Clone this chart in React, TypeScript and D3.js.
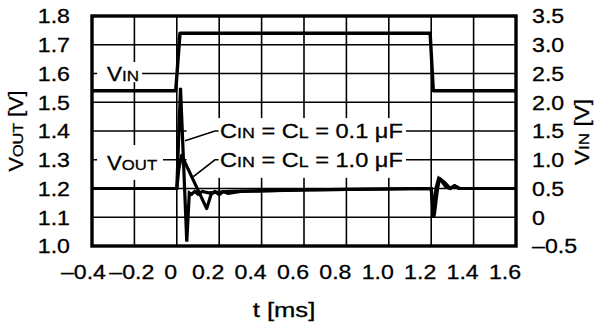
import React from 'react';
import * as d3 from 'd3';

const W = 595;
const H = 325;

// axis ticks
const xTicks = [-0.4, -0.2, 0, 0.2, 0.4, 0.6, 0.8, 1.0, 1.2, 1.4, 1.6];
const xTickLabels = ['–0.4', '–0.2', '0', '0.2', '0.4', '0.6', '0.8', '1.0', '1.2', '1.4', '1.6'];
const yLeftTicks = [1.0, 1.1, 1.2, 1.3, 1.4, 1.5, 1.6, 1.7, 1.8];
const yLeftLabels = ['1.0', '1.1', '1.2', '1.3', '1.4', '1.5', '1.6', '1.7', '1.8'];
const yRightTicks = [-0.5, 0, 0.5, 1.0, 1.5, 2.0, 2.5, 3.0, 3.5];
const yRightLabels = ['–0.5', '0', '0.5', '1.0', '1.5', '2.0', '2.5', '3.0', '3.5'];

// V_IN step (right axis)
const vinT = [-0.4, -0.005, 0.015, 1.195, 1.21, 1.6];
const vinV = [2.2, 2.2, 3.2, 3.2, 2.2, 2.2];

// V_OUT, C = 0.1 uF (left axis)
const vout01T = [-0.4, 0, 0.0175, 0.047, 0.059, 0.07, 0.085, 0.1, 0.12, 0.15, 0.25, 0.6, 1.2, 1.205, 1.212, 1.222, 1.235, 1.25, 1.27, 1.29, 1.31, 1.33, 1.36, 1.6];
const vout01V = [1.2, 1.2, 1.55, 1.015, 1.185, 1.18, 1.19, 1.18, 1.19, 1.185, 1.19, 1.195, 1.2, 1.15, 1.1, 1.2, 1.235, 1.225, 1.205, 1.2, 1.21, 1.2, 1.2, 1.2];

// V_OUT, C = 1.0 uF (left axis)
const vout10T = [-0.4, 0, 0.01, 0.023, 0.141, 0.162, 0.18, 0.2, 0.22, 0.24, 0.3, 0.6, 1.2, 1.208, 1.215, 1.23, 1.24, 1.265, 1.29, 1.31, 1.335, 1.36, 1.6];
const vout10V = [1.2, 1.2, 1.27, 1.315, 1.13, 1.18, 1.19, 1.178, 1.19, 1.183, 1.19, 1.195, 1.2, 1.15, 1.11, 1.2, 1.235, 1.22, 1.2, 1.21, 1.2, 1.2, 1.2];

const FONT = '"Liberation Sans", Arial, Helvetica, sans-serif';
const FS = 20.5;
const SUB = 15.5;

type TxtProps = {
  x: number; y: number; anchor?: 'start' | 'middle' | 'end'; sx?: number; rot?: number;
  dy?: string; size?: number; children: React.ReactNode;
};
function Txt({ x, y, anchor = 'start', sx = 1.13, rot = 0, dy = '0.36em', size = FS, children }: TxtProps) {
  return (
    <text
      transform={`translate(${x},${y})${rot ? ` rotate(${rot})` : ''} scale(${sx},1)`}
      textAnchor={anchor}
      dy={dy}
      fontSize={size}
      fontFamily={FONT}
      fill="#000"
      stroke="#000"
      strokeWidth={0.3}
    >
      {children}
    </text>
  );
}

export default function App() {
  const left = 92, right = 516, top = 16, bottom = 246;
  const x = d3.scaleLinear().domain([-0.4, 1.6]).range([left, right]);
  const yL = d3.scaleLinear().domain([1.0, 1.8]).range([bottom, top]);
  const yR = d3.scaleLinear().domain([-0.5, 3.5]).range([bottom, top]);

  const lineL = d3.line<[number, number]>().x(d => x(d[0])).y(d => yL(d[1]));
  const lineR = d3.line<[number, number]>().x(d => x(d[0])).y(d => yR(d[1]));

  const vin = vinT.map((t, i) => [t, vinV[i]] as [number, number]);
  const v01 = vout01T.map((t, i) => [t, vout01V[i]] as [number, number]);
  const v10 = vout10T.map((t, i) => [t, vout10V[i]] as [number, number]);

  const box = (t0: number, t1: number, v0: number, v1: number, key: string) => (
    <rect key={key} x={x(t0)} y={yL(v1)} width={x(t1) - x(t0)} height={yL(v0) - yL(v1)} fill="#fff" />
  );

  const leader01: [number, number][] = [[0.039, 1.366], [0.18, 1.4], [0.197, 1.4]];
  const leader10: [number, number][] = [[0.078, 1.241], [0.18, 1.3], [0.197, 1.3]];

  return (
    <svg width={W} height={H} style={{ position: 'absolute', left: 0, top: 0, background: '#fff' }}>
      <rect x={0} y={0} width={W} height={H} fill="#fff" />
      {/* grid */}
      {xTicks.slice(1, -1).map(t => (
        <line key={'gx' + t} x1={x(t)} x2={x(t)} y1={top} y2={bottom} stroke="#000" strokeWidth={1.6} />
      ))}
      {yLeftTicks.slice(1, -1).map(v => (
        <line key={'gy' + v} x1={left} x2={right} y1={yL(v)} y2={yL(v)} stroke="#000" strokeWidth={1.6} />
      ))}
      {/* label backgrounds */}
      {box(-0.376, -0.164, 1.57, 1.64, 'bA')}
      {box(-0.376, -0.065, 1.23, 1.351, 'bB')}
      {box(0.046, 1.081, 1.237, 1.445, 'bC')}
      {/* curves */}
      <path d={lineR(vin) || ''} fill="none" stroke="#000" strokeWidth={3.4} strokeLinejoin="round" />
      <path d={lineL(v10) || ''} fill="none" stroke="#000" strokeWidth={3.2} strokeLinejoin="round" />
      <path d={lineL(v01) || ''} fill="none" stroke="#000" strokeWidth={3.2} strokeLinejoin="miter" />
      {/* leaders */}
      <path d={lineL(leader01) || ''} fill="none" stroke="#000" strokeWidth={1.6} />
      <path d={lineL(leader10) || ''} fill="none" stroke="#000" strokeWidth={1.6} />
      {/* in-plot labels */}
      <Txt x={x(-0.329)} y={yL(1.6)} sx={1.1}>V<tspan fontSize={SUB}>IN</tspan></Txt>
      <Txt x={x(-0.329)} y={yL(1.3) + 2.5} sx={1.08}>V<tspan fontSize={SUB}>OUT</tspan></Txt>
      <Txt x={x(0.204)} y={yL(1.4)} sx={1.15}>C<tspan fontSize={SUB}>IN</tspan> = C<tspan fontSize={SUB}>L</tspan> = 0.1 μF</Txt>
      <Txt x={x(0.204)} y={yL(1.3)} sx={1.15}>C<tspan fontSize={SUB}>IN</tspan> = C<tspan fontSize={SUB}>L</tspan> = 1.0 μF</Txt>
      {/* frame */}
      <rect x={left} y={top} width={right - left} height={bottom - top} fill="none" stroke="#000" strokeWidth={3.4} />
      {/* tick labels */}
      {yLeftTicks.map((v, i) => (
        <Txt key={'yl' + v} x={70} y={yL(v)} anchor="end">{yLeftLabels[i]}</Txt>
      ))}
      {yRightTicks.map((v, i) => (
        <Txt key={'yr' + v} x={532} y={yR(v)} anchor="start">{yRightLabels[i]}</Txt>
      ))}
      {xTicks.map((t, i) =>
        t < 0 ? (
          <Txt key={'xt' + t} x={x(t) + 14 + (t + 0.4) * 30} y={272} anchor="end">{xTickLabels[i]}</Txt>
        ) : (
          <Txt key={'xt' + t} x={x(t) - (t === 0 ? 6 : 11)} y={272} anchor="middle">{xTickLabels[i]}</Txt>
        )
      )}
      {/* axis titles */}
      <Txt x={16} y={131} rot={-90} anchor="middle" sx={1.05}>V<tspan fontSize={SUB}>OUT</tspan> [V]</Txt>
      <Txt x={582} y={132} rot={-90} anchor="middle" sx={1.1}>V<tspan fontSize={SUB}>IN</tspan> [V]</Txt>
      <Txt x={284} y={317} anchor="middle" dy="0" sx={1.25}>t [ms]</Txt>
    </svg>
  );
}
